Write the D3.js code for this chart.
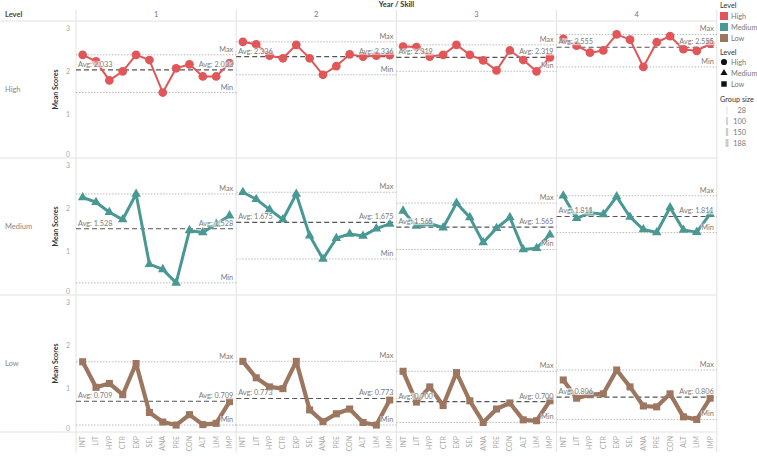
<!DOCTYPE html>
<html><head><meta charset="utf-8">
<script src="https://cdn.jsdelivr.net/npm/d3@7"></script>
<style>
body{margin:0;background:#fff;}
text{font-family:"Lato","Open Sans",sans-serif;}
</style>
</head><body>
<svg id="chart" width="757" height="456"></svg>
<script>
// ---------- DATA ----------
const skills = ["INT","LIT","HYP","CTR","EXP","SEL","ANA","PRE","CON","ALT","LIM","IMP"];
const years = ["1","2","3","4"];
const levels = ["High","Medium","Low"];
const yTicks = [0,1,2,3];

// mean scores per year (4 arrays of 12 skills each)
const highScores = [
  [2.38,2.23,1.79,2.00,2.38,2.26,1.51,2.07,2.16,1.88,1.88,2.19],
  [2.68,2.62,2.36,2.30,2.61,2.30,1.92,2.12,2.39,2.34,2.36,2.37],
  [2.57,2.56,2.34,2.38,2.61,2.38,2.25,2.02,2.48,2.26,2.00,2.32],
  [2.75,2.59,2.43,2.48,2.85,2.73,2.10,2.67,2.81,2.51,2.47,2.64]
];
const mediumScores = [
  [2.25,2.14,1.91,1.74,2.33,0.71,0.59,0.28,1.49,1.44,1.64,1.83],
  [2.37,2.21,1.97,1.74,2.33,1.37,0.83,1.31,1.41,1.36,1.53,1.64],
  [1.94,1.59,1.65,1.55,2.12,1.79,1.21,1.54,1.79,1.05,1.08,1.39],
  [2.29,1.77,1.90,1.86,2.27,1.80,1.51,1.44,2.02,1.50,1.45,1.87]
];
const lowScores = [
  [1.62,1.03,1.12,0.86,1.58,0.45,0.23,0.16,0.40,0.17,0.20,0.70],
  [1.63,1.25,1.04,1.00,1.63,0.51,0.24,0.42,0.53,0.22,0.16,0.74],
  [1.40,0.69,1.04,0.61,1.37,0.72,0.22,0.53,0.67,0.28,0.26,0.72],
  [1.20,0.78,0.86,0.88,1.43,1.04,0.60,0.58,0.88,0.35,0.29,0.78]
];
// average reference values shown in the chart
const highAvg = [2.033,2.336,2.319,2.555];
const mediumAvg = [1.528,1.675,1.565,1.811];
const lowAvg = [0.709,0.773,0.700,0.806];

const groupSizes = [28,100,150,188];

// ---------- LAYOUT ----------
const svg = d3.select("#chart");
const plotL = 76, colW = 160.2, rowTop = 21, rowH = 137;
const plotR = plotL + colW * 4;
const colors = {High:"#e15759", Medium:"#499894", Low:"#9d7660"};
const lineW = {High:2, Medium:3, Low:4.2};
const scoresBy = {High:highScores, Medium:mediumScores, Low:lowScores};
const avgBy = {High:highAvg, Medium:mediumAvg, Low:lowAvg};
const symbolBy = {High:d3.symbolCircle, Medium:d3.symbolTriangle, Low:d3.symbolSquare};
const symbolSize = {High:60, Medium:40, Low:50};
const gridC = "#e2e2e2";

const colX = d3.scaleBand().domain(years).range([plotL, plotR]).padding(0);
const rowY = d3.scaleBand().domain(levels).range([rowTop, rowTop + rowH*3]).padding(0);

// ---------- GRID ----------
const grid = svg.append("g");
[rowTop, rowTop+rowH, rowTop+2*rowH, rowTop+3*rowH].forEach(y=>{
  grid.append("line").attr("x1",0).attr("x2",plotR).attr("y1",y).attr("y2",y)
    .attr("stroke",gridC).attr("stroke-width",1);
});
years.forEach(yr=>{
  const x = colX(yr);
  grid.append("line").attr("x1",x).attr("x2",x).attr("y1",10).attr("y2",452)
    .attr("stroke",gridC).attr("stroke-width",1);
});
grid.append("line").attr("x1",plotR).attr("x2",plotR).attr("y1",10).attr("y2",452)
  .attr("stroke",gridC).attr("stroke-width",1);

// ---------- HEADERS ----------
svg.append("text").attr("x",(plotL+plotR)/2).attr("y",7).attr("text-anchor","middle")
  .attr("font-size",7.5).attr("font-weight","bold").attr("fill","#333").text("Year / Skill");
svg.append("text").attr("x",5).attr("y",17).attr("font-size",7.5).attr("font-weight","bold")
  .attr("fill","#444").text("Level");
years.forEach(yr=>{
  svg.append("text").attr("x",colX(yr)+colX.bandwidth()/2).attr("y",17).attr("text-anchor","middle")
    .attr("font-size",7.5).attr("fill","#777").text(yr);
});

// ---------- ROWS ----------
levels.forEach(lv=>{
  const y0 = rowY(lv), y1 = y0 + rowH;
  const y = d3.scaleLinear().domain([0,3.16]).range([y1, y0]);
  svg.append("text").attr("x",5).attr("y",(y0+y1)/2+2).attr("font-size",7.5)
    .attr("fill","#888").text(lv);
  svg.append("text").attr("transform",`translate(58,${(y0+y1)/2}) rotate(-90)`)
    .attr("text-anchor","middle").attr("font-size",7).attr("font-weight","bold")
    .attr("fill","#333").text("Mean Scores");
  const ax = svg.append("g").attr("transform",`translate(${plotL},0)`)
    .call(d3.axisLeft(y).tickValues(yTicks).tickSize(0).tickPadding(6).tickFormat(d3.format("d")));
  ax.select(".domain").remove();
  ax.selectAll("text").attr("font-size",7).attr("fill","#aaa").attr("font-family","Lato, sans-serif")
    .attr("dy", d => d===0 ? "-0.2em" : "0.32em");

  years.forEach((yr,i)=>{
    const px = colX(yr);
    const x = d3.scalePoint().domain(skills).range([px, px+colX.bandwidth()]).padding(0.5);
    const vals = scoresBy[lv][i];
    const data = skills.map((s,j)=>({s, v:vals[j]}));
    const mx = d3.max(vals), mn = d3.min(vals), av = avgBy[lv][i];
    const g = svg.append("g");
    const refs = g.append("g");
    [mx, mn].forEach(v=>{
      refs.append("line").attr("x1",px).attr("x2",px+colX.bandwidth())
        .attr("y1",y(v)).attr("y2",y(v)).attr("stroke","#aaa").attr("stroke-width",0.8)
        .attr("stroke-dasharray","1.5,1.5");
    });
    refs.append("line").attr("x1",px).attr("x2",px+colX.bandwidth())
      .attr("y1",y(av)).attr("y2",y(av)).attr("stroke","#555").attr("stroke-width",1.2)
      .attr("stroke-dasharray","5,3");
    g.append("path").datum(data)
      .attr("d", d3.line().x(d=>x(d.s)).y(d=>y(d.v)))
      .attr("fill","none").attr("stroke",colors[lv]).attr("stroke-width",lineW[lv])
      .attr("stroke-linejoin","round");
    g.selectAll("path.m").data(data).enter().append("path").attr("class","m")
      .attr("transform",d=>`translate(${x(d.s)},${y(d.v)})`)
      .attr("d", d3.symbol().type(symbolBy[lv]).size(symbolSize[lv]))
      .attr("fill",colors[lv]);
    const labs = g.append("g");
    const addLab = (txt, xx, yy, anchor)=>{
      const t = labs.append("text").attr("x",xx).attr("y",yy).attr("text-anchor",anchor)
        .attr("font-size",7.3).attr("fill","#7a7a7a").text(txt);
      const bb = t.node().getBBox();
      labs.insert("rect","text").attr("x",bb.x-0.5).attr("y",bb.y+1).attr("width",bb.width+1)
        .attr("height",bb.height-2).attr("fill","#fff").attr("fill-opacity",0.6);
    };
    const r = px + colX.bandwidth() - 3;
    addLab("Max", r, y(mx)-3, "end");
    addLab("Min", r, y(mn)-3, "end");
    const avTxt = "Avg: " + d3.format(".3f")(av);
    addLab(avTxt, px+2, y(av)-3, "start");
    addLab(avTxt, r, y(av)-3, "end");
  });
});

// ---------- X AXIS LABELS ----------
years.forEach(yr=>{
  const px = colX(yr);
  const x = d3.scalePoint().domain(skills).range([px, px+colX.bandwidth()]).padding(0.5);
  svg.append("g").selectAll("text").data(skills).enter().append("text")
    .attr("transform",d=>`translate(${x(d)},436) rotate(-90)`)
    .attr("text-anchor","end").attr("dy","0.35em").attr("font-size",7)
    .attr("fill","#aaa").text(d=>d);
});

// ---------- LEGENDS ----------
const lg = svg.append("g").attr("transform","translate(720,0)");
lg.append("text").attr("x",0).attr("y",8).attr("font-size",7.3).attr("fill","#333").text("Level");
levels.forEach((lv,i)=>{
  lg.append("rect").attr("x",0).attr("y",12+i*11).attr("width",8).attr("height",8).attr("fill",colors[lv]);
  lg.append("text").attr("x",11).attr("y",19+i*11).attr("font-size",7.3).attr("fill","#777").text(lv);
});
lg.append("text").attr("x",0).attr("y",55).attr("font-size",7.3).attr("fill","#333").text("Level");
levels.forEach((lv,i)=>{
  lg.append("path").attr("transform",`translate(4,${62+i*11})`)
    .attr("d",d3.symbol().type(symbolBy[lv]).size(lv==="Medium"?22:30)).attr("fill","#111");
  lg.append("text").attr("x",11).attr("y",65+i*11).attr("font-size",7.3).attr("fill","#777").text(lv);
});
lg.append("text").attr("x",0).attr("y",102).attr("font-size",7.3).attr("fill","#333").text("Group size");
const gw = d3.scaleLinear().domain([28,188]).range([0.6,3]);
groupSizes.forEach((g,i)=>{
  lg.append("rect").attr("x",7-gw(g)/2).attr("y",106+i*11).attr("width",gw(g)).attr("height",8)
    .attr("fill","#ccc");
  lg.append("text").attr("x",26).attr("y",113+i*11).attr("text-anchor","end")
    .attr("font-size",7.3).attr("fill","#777").text(g);
});
</script>
</body></html>
